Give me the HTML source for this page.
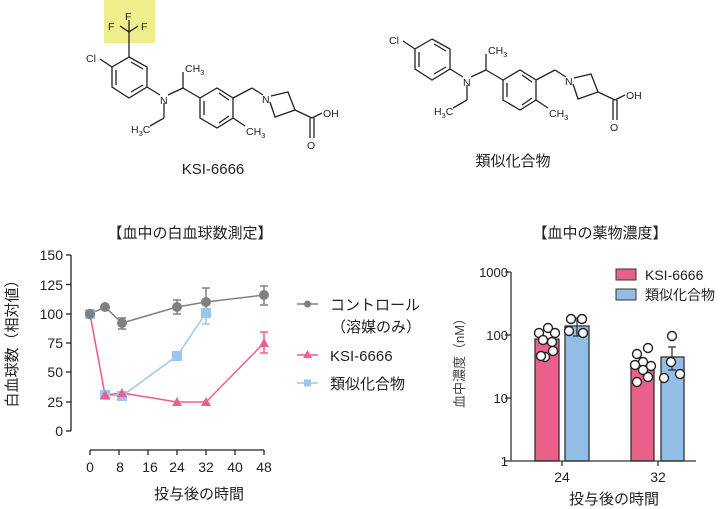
<!DOCTYPE html>
<html><head><meta charset="utf-8"><style>
html,body{margin:0;padding:0;background:#fff}
svg{display:block}
text{font-family:"Liberation Sans","Noto Sans CJK JP",sans-serif;fill:#222}
</style></head><body>
<svg width="720" height="509" viewBox="0 0 720 509" xmlns="http://www.w3.org/2000/svg">
<!-- Molecule 1 -->
<rect x="104" y="0" width="51" height="43" fill="#eeee8c"/>
<g stroke="#222" stroke-width="1.3" fill="none">
<polyline points="129,57 147,67 147,87 129,98 112,87 112,67 129,57"/>
<line x1="131" y1="62" x2="143" y2="69"/><line x1="143" y1="85" x2="131" y2="92"/><line x1="116" y1="70" x2="116" y2="85"/>
<line x1="129" y1="57" x2="129" y2="32"/>
<line x1="129" y1="32" x2="120" y2="26"/><line x1="129" y1="32" x2="138" y2="26"/><line x1="129" y1="32" x2="129" y2="20"/>
<line x1="112" y1="67" x2="100" y2="59"/>
<line x1="147" y1="87" x2="160" y2="95"/>
<line x1="168" y1="95" x2="183" y2="88"/><line x1="183" y1="88" x2="183" y2="72"/><line x1="183" y1="88" x2="200" y2="98"/>
<line x1="164" y1="103" x2="164" y2="118"/><line x1="164" y1="118" x2="150" y2="126"/>
<polyline points="200,98 217,88 233,98 233,118 217,128 200,118 200,98"/>
<line x1="204" y1="101" x2="204" y2="115"/><line x1="219" y1="93" x2="229" y2="100"/><line x1="219" y1="123" x2="229" y2="116"/>
<line x1="233" y1="118" x2="245" y2="126"/>
<line x1="233" y1="98" x2="252" y2="88"/><line x1="252" y1="88" x2="263" y2="95"/>
<polyline points="271,96 288,92 295,110 275,117 270,102"/>
<line x1="295" y1="110" x2="312" y2="118"/><line x1="312" y1="118" x2="322" y2="113"/>
<line x1="310" y1="118" x2="310" y2="138"/><line x1="314" y1="118" x2="314" y2="138"/>
</g>
<g font-size="10.5">
<text x="125" y="20">F</text><text x="108" y="30">F</text><text x="141" y="30">F</text>
<text x="86" y="62">Cl</text><text x="160" y="104">N</text><text x="185" y="72">CH<tspan font-size="7.5" dy="3">3</tspan></text>
<text x="131" y="133">H<tspan font-size="7.5" dy="3">3</tspan><tspan dy="-3">C</tspan></text>
<text x="246" y="135">CH<tspan font-size="7.5" dy="3">3</tspan></text>
<text x="262" y="103">N</text><text x="323" y="117">OH</text><text x="307" y="149">O</text>
</g>
<text x="213" y="174" font-size="15" text-anchor="middle">KSI-6666</text>
<!-- Molecule 2 -->
<g transform="translate(303,-18)">
<g stroke="#222" stroke-width="1.3" fill="none">
<polyline points="129,57 147,67 147,87 129,98 112,87 112,67 129,57"/>
<line x1="131" y1="62" x2="143" y2="69"/><line x1="143" y1="85" x2="131" y2="92"/><line x1="116" y1="70" x2="116" y2="85"/>
<line x1="112" y1="67" x2="100" y2="59"/>
<line x1="147" y1="87" x2="160" y2="95"/>
<line x1="168" y1="95" x2="183" y2="88"/><line x1="183" y1="88" x2="183" y2="72"/><line x1="183" y1="88" x2="200" y2="98"/>
<line x1="164" y1="103" x2="164" y2="118"/><line x1="164" y1="118" x2="150" y2="126"/>
<polyline points="200,98 217,88 233,98 233,118 217,128 200,118 200,98"/>
<line x1="204" y1="101" x2="204" y2="115"/><line x1="219" y1="93" x2="229" y2="100"/><line x1="219" y1="123" x2="229" y2="116"/>
<line x1="233" y1="118" x2="245" y2="126"/>
<line x1="233" y1="98" x2="252" y2="88"/><line x1="252" y1="88" x2="263" y2="95"/>
<polyline points="271,96 288,92 295,110 275,117 270,102"/>
<line x1="295" y1="110" x2="312" y2="118"/><line x1="312" y1="118" x2="322" y2="113"/>
<line x1="310" y1="118" x2="310" y2="138"/><line x1="314" y1="118" x2="314" y2="138"/>
</g>
<g font-size="10.5">
<text x="86" y="62">Cl</text><text x="160" y="104">N</text><text x="185" y="72">CH<tspan font-size="7.5" dy="3">3</tspan></text>
<text x="131" y="133">H<tspan font-size="7.5" dy="3">3</tspan><tspan dy="-3">C</tspan></text>
<text x="246" y="135">CH<tspan font-size="7.5" dy="3">3</tspan></text>
<text x="262" y="103">N</text><text x="323" y="117">OH</text><text x="307" y="149">O</text>
</g>
</g>
<text x="513" y="166" font-size="15" text-anchor="middle">類似化合物</text>

<!-- Line chart -->
<text x="190" y="238" font-size="15" text-anchor="middle">【血中の白血球数測定】</text>
<g stroke="#222" stroke-width="1.3">
<line x1="71" y1="255" x2="71" y2="431"/>
<line x1="66" y1="255" x2="71" y2="255"/><line x1="66" y1="284.5" x2="71" y2="284.5"/><line x1="66" y1="314" x2="71" y2="314"/><line x1="66" y1="343" x2="71" y2="343"/><line x1="66" y1="372" x2="71" y2="372"/><line x1="66" y1="402" x2="71" y2="402"/><line x1="66" y1="431" x2="71" y2="431"/>
<line x1="90" y1="450" x2="264" y2="450"/>
<line x1="90" y1="450" x2="90" y2="455"/><line x1="119" y1="450" x2="119" y2="455"/><line x1="148" y1="450" x2="148" y2="455"/><line x1="177" y1="450" x2="177" y2="455"/><line x1="206" y1="450" x2="206" y2="455"/><line x1="235" y1="450" x2="235" y2="455"/><line x1="264" y1="450" x2="264" y2="455"/>
</g>
<g font-size="14" text-anchor="end">
<text x="63" y="260">150</text><text x="63" y="290">125</text><text x="63" y="319">100</text><text x="63" y="348">75</text><text x="63" y="377">50</text><text x="63" y="407">25</text><text x="63" y="436">0</text>
</g>
<g font-size="14" text-anchor="middle">
<text x="90" y="472">0</text><text x="120" y="472">8</text><text x="150" y="472">16</text><text x="177" y="472">24</text><text x="206" y="472">32</text><text x="235" y="472">40</text><text x="264" y="472">48</text>
</g>
<text x="199" y="499" font-size="15" text-anchor="middle">投与後の時間</text>
<text transform="translate(17,340) rotate(-90)" font-size="15" text-anchor="middle">白血球数（相対値）</text>
<!-- series -->
<polyline points="90,314 105,307 122,323 177,307 206,302 264,295" fill="none" stroke="#808080" stroke-width="1.5"/>
<polyline points="90,314 105,395 122,396 177,356 206,313" fill="none" stroke="#9cc6ec" stroke-width="1.5"/>
<polyline points="90,314 105,395 122,393 177,402 206,402 264,343" fill="none" stroke="#ee5f8e" stroke-width="1.5"/>
<g stroke="#808080" stroke-width="1.5">
<line x1="122" y1="318" x2="122" y2="329"/><line x1="118" y1="318" x2="126" y2="318"/><line x1="118" y1="329" x2="126" y2="329"/>
<line x1="177" y1="300" x2="177" y2="314"/><line x1="173" y1="300" x2="181" y2="300"/><line x1="173" y1="314" x2="181" y2="314"/>
<line x1="206" y1="288" x2="206" y2="316"/><line x1="202" y1="288" x2="210" y2="288"/>
<line x1="264" y1="286" x2="264" y2="305"/><line x1="260" y1="286" x2="268" y2="286"/><line x1="260" y1="305" x2="268" y2="305"/>
</g>
<g stroke="#9cc6ec" stroke-width="1.5"><line x1="206" y1="313" x2="206" y2="324"/><line x1="202" y1="324" x2="210" y2="324"/></g>
<g stroke="#ee5f8e" stroke-width="1.5"><line x1="264" y1="332" x2="264" y2="353"/><line x1="260" y1="332" x2="268" y2="332"/><line x1="260" y1="353" x2="268" y2="353"/></g>
<g fill="#9cc6ec">
<rect x="85" y="309" width="10" height="10"/><rect x="100" y="390" width="10" height="10"/><rect x="117" y="391" width="10" height="10"/><rect x="172" y="351" width="10" height="10"/><rect x="201" y="308" width="10" height="10"/>
</g>
<g fill="#ee5f8e">
<polygon points="105,390 110,399 100,399"/><polygon points="122,388 127,397 117,397"/><polygon points="177,397 182,406 172,406"/><polygon points="206,397 211,406 201,406"/><polygon points="264,338 269,347 259,347"/>
</g>
<g fill="#808080">
<circle cx="90" cy="314" r="5"/><circle cx="105" cy="307" r="5"/><circle cx="122" cy="323" r="5"/><circle cx="177" cy="307" r="5"/><circle cx="206" cy="302" r="5"/><circle cx="264" cy="295" r="5"/>
</g>
<!-- legend -->
<line x1="297" y1="304" x2="318" y2="304" stroke="#808080" stroke-width="1.5"/><circle cx="307.5" cy="304" r="3.5" fill="#808080"/>
<text x="330" y="310" font-size="15">コントロール</text>
<text x="331" y="332" font-size="15">（溶媒のみ）</text>
<line x1="297" y1="355" x2="318" y2="355" stroke="#ee5f8e" stroke-width="1.5"/><polygon points="307.5,350 312,358 303,358" fill="#ee5f8e"/>
<text x="330" y="361" font-size="15">KSI-6666</text>
<line x1="297" y1="383" x2="318" y2="383" stroke="#9cc6ec" stroke-width="1.5"/><rect x="304" y="379.5" width="7" height="7" fill="#9cc6ec"/>
<text x="330" y="389" font-size="15">類似化合物</text>

<!-- Bar chart -->
<text x="600" y="238" font-size="15" text-anchor="middle">【血中の薬物濃度】</text>
<g stroke="#333" stroke-width="1.3">
<rect x="535" y="339" width="24" height="122" fill="#e9608a"/>
<rect x="565" y="326" width="24" height="135" fill="#92bde6"/>
<rect x="631" y="364" width="23" height="97" fill="#e9608a"/>
<rect x="661" y="357" width="23" height="104" fill="#92bde6"/>
<line x1="511" y1="272" x2="511" y2="461"/>
<line x1="511" y1="461" x2="696" y2="461"/>
<line x1="505" y1="272" x2="511" y2="272"/><line x1="505" y1="335" x2="511" y2="335"/><line x1="505" y1="398" x2="511" y2="398"/><line x1="505" y1="461" x2="511" y2="461"/>
<line x1="562" y1="461" x2="562" y2="466"/><line x1="658" y1="461" x2="658" y2="466"/>
<line x1="577" y1="318" x2="577" y2="336"/><line x1="573" y1="318" x2="581" y2="318"/><line x1="573" y1="336" x2="581" y2="336"/>
<line x1="672" y1="347" x2="672" y2="370"/><line x1="668" y1="347" x2="676" y2="347"/><line x1="668" y1="370" x2="676" y2="370"/>
</g>
<g fill="#fff" stroke="#222" stroke-width="1.4">
<circle cx="539" cy="333" r="4.5"/><circle cx="548" cy="328" r="4.5"/><circle cx="555" cy="333" r="4.5"/><circle cx="543" cy="340" r="4.5"/><circle cx="552" cy="342" r="4.5"/><circle cx="545" cy="357" r="4.5"/><circle cx="553" cy="351" r="4.5"/><circle cx="541" cy="356" r="4.5"/>
<circle cx="571" cy="319" r="4.5"/><circle cx="582" cy="319" r="4.5"/><circle cx="569" cy="331" r="4.5"/><circle cx="583" cy="333" r="4.5"/>
<circle cx="637" cy="354" r="4.5"/><circle cx="648" cy="348" r="4.5"/><circle cx="643" cy="362" r="4.5"/><circle cx="635" cy="365" r="4.5"/><circle cx="651" cy="366" r="4.5"/><circle cx="637" cy="382" r="4.5"/><circle cx="648" cy="377" r="4.5"/><circle cx="643" cy="370" r="4.5"/>
<circle cx="672" cy="336" r="4.5"/><circle cx="671" cy="362" r="4.5"/><circle cx="664" cy="378" r="4.5"/><circle cx="680" cy="374" r="4.5"/>
</g>
<g font-size="13" text-anchor="end">
<text x="508" y="277">1000</text><text x="508" y="340">100</text><text x="508" y="403">10</text><text x="508" y="466">1</text>
</g>
<text x="562" y="482" font-size="14" text-anchor="middle">24</text>
<text x="658" y="482" font-size="14" text-anchor="middle">32</text>
<text x="614" y="504" font-size="15" text-anchor="middle">投与後の時間</text>
<text transform="translate(464,360) rotate(-90)" font-size="13" text-anchor="middle" style="fill:#444">血中濃度（nM）</text>
<rect x="616" y="269" width="20" height="11" fill="#e9608a" stroke="#333"/>
<text x="645" y="280" font-size="14">KSI-6666</text>
<rect x="616" y="289" width="20" height="11" fill="#92bde6" stroke="#333"/>
<text x="645" y="300" font-size="14">類似化合物</text>
</svg>
</body></html>
